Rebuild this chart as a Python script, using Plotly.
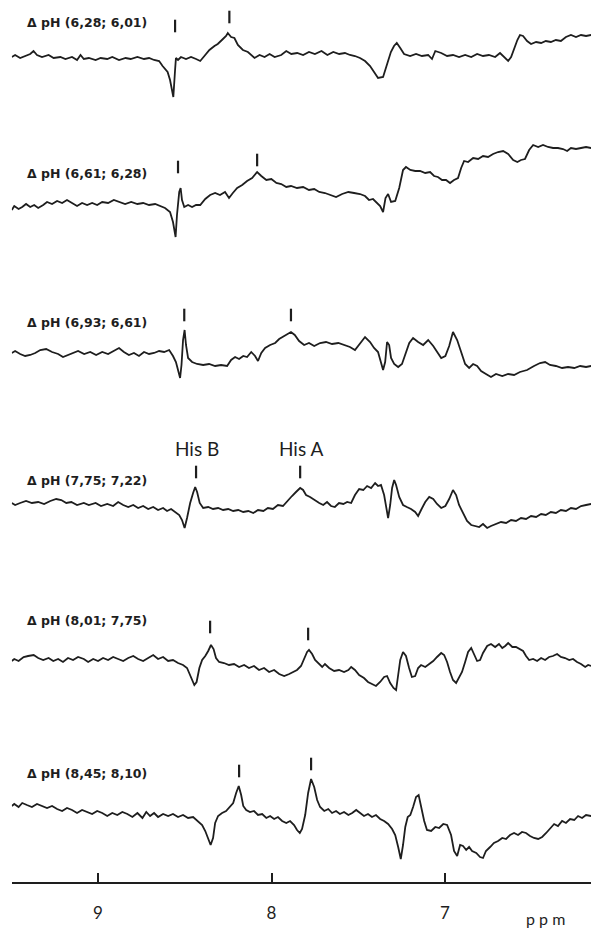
import plotly.graph_objects as go

# ---------------- data (ppm, difference intensity) ----------------
spectra_labels = ["Δ pH (6,28; 6,01)", "Δ pH (6,61; 6,28)", "Δ pH (6,93; 6,61)",
                  "Δ pH (7,75; 7,22)", "Δ pH (8,01; 7,75)", "Δ pH (8,45; 8,10)"]

spec_1 = [(9.497,-1),(9.478,1),(9.449,-2),(9.420,0),(9.391,2),(9.372,5),(9.352,1),(9.323,-1),(9.285,1),(9.256,-2),
          (9.217,-1),(9.188,-3),(9.150,-1),(9.121,-4),(9.101,1),(9.082,-3),(9.053,-2),(9.014,-4),(8.985,-2),(8.947,-3),
          (8.918,-1),(8.879,-4),(8.841,-2),(8.812,-3),(8.773,-1),(8.735,-3),(8.706,-2),(8.677,-4),(8.648,-5),(8.628,-10),
          (8.599,-16),(8.585,-24),(8.573,-34),(8.566,-41),(8.556,-14),(8.551,-2),(8.539,-4),(8.522,-1),(8.493,-3),
          (8.464,-1),(8.435,-3),(8.411,-5),(8.387,0),(8.358,6),(8.329,10),(8.310,12),(8.286,16),(8.262,20),(8.252,23),
          (8.233,19),(8.214,18),(8.194,11),(8.165,6),(8.136,4),(8.098,-2),(8.069,1),(8.040,-1),(8.011,2),(7.982,-1),
          (7.944,1),(7.915,5),(7.886,2),(7.852,3),(7.818,1),(7.784,4),(7.750,2),(7.712,5),(7.678,1),(7.644,4),
          (7.610,2),(7.577,3),(7.548,1),(7.519,0),(7.490,-2),(7.461,-5),(7.432,-10),(7.409,-16),(7.386,-22),
          (7.357,-21),(7.336,-10),(7.312,4),(7.294,10),(7.278,13),(7.258,8),(7.236,2),(7.201,0),(7.167,2),
          (7.133,0),(7.097,1),(7.075,-3),(7.056,5),(7.022,3),(6.988,0),(6.954,1),(6.919,-1),(6.884,1),(6.849,-1),
          (6.815,2),(6.781,0),(6.747,1),(6.711,-1),(6.683,3),(6.660,-1),(6.636,-5),(6.619,-1),(6.602,8),(6.583,16),
          (6.568,21),(6.550,20),(6.527,15),(6.504,12),(6.475,14),(6.446,13),(6.419,15),(6.390,14),(6.361,16),
          (6.332,15),(6.303,19),(6.274,21),(6.245,19),(6.216,21),(6.187,20),(6.158,21)]

spec_2 = [(9.497,-5),(9.483,-1),(9.458,-4),(9.437,-2),(9.415,1),(9.391,-2),(9.368,0),(9.345,-3),(9.316,0),
          (9.294,3),(9.265,1),(9.236,4),(9.207,2),(9.179,5),(9.150,2),(9.121,-1),(9.092,2),(9.063,0),(9.034,2),(9.005,0),
          (8.976,3),(8.942,2),(8.909,5),(8.879,3),(8.844,1),(8.809,3),(8.773,1),(8.740,2),(8.706,0),(8.671,1),
          (8.642,-1),(8.614,-3),(8.585,-7),(8.568,-17),(8.553,-32),(8.545,-10),(8.532,13),(8.524,17),(8.516,5),
          (8.503,-2),(8.481,0),(8.458,-2),(8.435,0),(8.411,0),(8.382,6),(8.354,10),(8.325,12),(8.297,10),
          (8.268,13),(8.245,7),(8.223,12),(8.198,17),(8.169,20),(8.141,24),(8.112,27),(8.083,33),(8.059,29),
          (8.030,25),(8.001,26),(7.972,22),(7.944,21),(7.915,18),(7.888,19),(7.853,17),(7.818,18),(7.784,15),
          (7.754,16),(7.725,13),(7.692,12),(7.657,10),(7.628,8),(7.593,11),(7.557,13),(7.524,12),(7.490,11),
          (7.461,9),(7.438,5),(7.415,6),(7.392,2),(7.374,-1),(7.357,-7),(7.343,7),(7.328,11),(7.311,3),(7.287,4),
          (7.264,17),(7.242,35),(7.225,38),(7.200,35),(7.172,34),(7.144,34),(7.114,32),(7.086,33),(7.063,29),
          (7.041,28),(7.017,25),(6.994,25),(6.971,22),(6.948,25),(6.925,27),(6.907,37),(6.890,44),(6.867,43),
          (6.838,47),(6.809,46),(6.781,49),(6.752,48),(6.723,51),(6.694,53),(6.665,54),(6.636,51),(6.607,45),
          (6.583,43),(6.562,45),(6.539,46),(6.515,55),(6.492,60),(6.463,58),(6.435,60),(6.406,58),(6.377,57),
          (6.349,57),(6.320,56),(6.296,54),(6.274,57),(6.245,56),(6.216,57),(6.187,58),(6.158,57)]

spec_3 = [(9.497,-1),(9.478,1),(9.449,-2),(9.420,-4),(9.391,-3),(9.362,-1),(9.333,2),(9.299,3),(9.265,0),(9.230,-2),
          (9.202,-5),(9.173,-3),(9.144,-1),(9.115,1),(9.080,-2),(9.045,0),(9.011,-3),(8.976,0),(8.942,-2),
          (8.909,1),(8.879,4),(8.851,0),(8.822,-3),(8.793,-1),(8.764,-4),(8.735,0),(8.706,-2),(8.677,-1),(8.648,1),
          (8.619,0),(8.590,2),(8.568,-4),(8.551,-10),(8.536,-20),(8.527,-26),(8.519,-13),(8.510,12),(8.501,22),
          (8.493,7),(8.481,-6),(8.458,-10),(8.429,-12),(8.394,-13),(8.360,-12),(8.325,-14),(8.291,-13),
          (8.256,-14),(8.233,-8),(8.210,-5),(8.187,-7),(8.163,-4),(8.141,-5),(8.117,0),(8.095,-4),(8.078,-9),
          (8.059,-1),(8.037,4),(8.008,7),(7.979,9),(7.956,13),(7.934,15),(7.910,18),(7.888,20),(7.866,17),
          (7.841,11),(7.812,7),(7.784,9),(7.754,6),(7.720,9),(7.686,10),(7.651,8),(7.615,9),(7.582,7),
          (7.548,5),(7.519,2),(7.490,9),(7.461,15),(7.432,10),(7.409,4),(7.386,0),(7.369,-10),(7.357,-18),
          (7.345,-10),(7.334,10),(7.322,7),(7.311,-6),(7.293,-12),(7.270,-15),(7.248,-12),(7.230,-3),(7.206,9),
          (7.184,14),(7.155,10),(7.126,7),(7.097,12),(7.068,6),(7.046,0),(7.022,-6),(6.998,-4),(6.976,6),
          (6.954,20),(6.930,12),(6.907,0),(6.884,-12),(6.861,-16),(6.838,-12),(6.815,-14),(6.792,-19),
          (6.764,-22),(6.735,-25),(6.706,-22),(6.670,-24),(6.636,-22),(6.602,-23),(6.568,-20),(6.527,-18),
          (6.487,-14),(6.452,-11),(6.423,-10),(6.395,-13),(6.361,-14),(6.325,-16),(6.291,-15),(6.255,-16),
          (6.221,-14),(6.187,-15),(6.158,-14)]

spec_4 = [(9.497,0),(9.478,-2),(9.449,0),(9.415,2),(9.381,0),(9.345,1),(9.311,-1),(9.275,2),(9.241,4),(9.212,3),
          (9.183,0),(9.154,1),(9.121,-2),(9.082,0),(9.053,-2),(9.014,0),(8.983,-3),(8.947,-1),(8.913,-3),(8.884,1),
          (8.855,-2),(8.826,-4),(8.797,-2),(8.769,-5),(8.740,-3),(8.711,-6),(8.682,-4),(8.654,-7),(8.625,-5),
          (8.602,-8),(8.579,-6),(8.556,-9),(8.532,-12),(8.516,-17),(8.501,-25),(8.487,-15),(8.469,0),(8.452,10),
          (8.440,16),(8.429,11),(8.414,0),(8.394,-5),(8.365,-4),(8.337,-6),(8.308,-5),(8.279,-7),(8.250,-6),
          (8.221,-8),(8.192,-7),(8.163,-9),(8.134,-8),(8.105,-10),(8.078,-7),(8.047,-8),(8.021,-5),(7.992,-6),
          (7.963,-2),(7.934,-3),(7.905,2),(7.882,7),(7.859,11),(7.835,15),(7.818,13),(7.801,8),(7.778,6),(7.754,3),
          (7.725,0),(7.702,-2),(7.680,1),(7.657,-3),(7.635,-4),(7.611,0),(7.586,-1),(7.564,1),(7.541,0),(7.519,8),
          (7.495,14),(7.471,13),(7.449,17),(7.426,15),(7.403,20),(7.386,17),(7.369,18),(7.351,8),(7.340,-2),
          (7.328,-15),(7.316,-2),(7.305,15),(7.293,23),(7.282,18),(7.264,6),(7.242,-2),(7.220,-4),(7.196,-6),
          (7.172,-9),(7.155,-13),(7.138,-7),(7.114,1),(7.091,6),(7.068,4),(7.046,-1),(7.022,-5),(6.998,-3),
          (6.976,4),(6.954,13),(6.936,8),(6.919,-2),(6.896,-10),(6.873,-18),(6.849,-22),(6.826,-23),(6.803,-24),
          (6.781,-21),(6.757,-25),(6.735,-23),(6.706,-21),(6.677,-19),(6.648,-20),(6.619,-17),(6.591,-18),
          (6.562,-15),(6.533,-16),(6.504,-13),(6.475,-14),(6.446,-11),(6.419,-12),(6.390,-9),(6.361,-10),
          (6.332,-7),(6.303,-8),(6.274,-5),(6.245,-6),(6.216,-3),(6.187,-2),(6.158,-1)]

spec_5 = [(9.497,-3),(9.483,-1),(9.458,-3),(9.429,1),(9.403,2),(9.371,3),(9.345,0),(9.316,-2),(9.285,0),(9.258,-3),
          (9.230,-1),(9.202,-4),(9.173,0),(9.144,-2),(9.115,1),(9.082,-1),(9.057,-4),(9.028,-1),(9.000,-3),
          (8.971,0),(8.942,-2),(8.913,1),(8.884,-1),(8.855,-3),(8.826,0),(8.797,2),(8.769,-1),(8.740,-3),
          (8.711,0),(8.682,3),(8.654,-1),(8.625,1),(8.596,-3),(8.568,-2),(8.539,-5),(8.510,-7),(8.487,-10),
          (8.465,-18),(8.445,-27),(8.432,-24),(8.416,-10),(8.400,-2),(8.382,2),(8.365,7),(8.349,13),(8.334,9),
          (8.320,0),(8.302,-4),(8.274,-5),(8.245,-7),(8.216,-6),(8.187,-9),(8.158,-7),(8.130,-10),(8.101,-8),
          (8.072,-12),(8.043,-10),(8.014,-14),(7.985,-12),(7.956,-16),(7.927,-18),(7.898,-16),(7.876,-14),
          (7.853,-12),(7.830,-8),(7.812,-1),(7.795,6),(7.784,8),(7.766,4),(7.749,-2),(7.725,-6),(7.708,-9),
          (7.692,-6),(7.668,-10),(7.639,-13),(7.611,-12),(7.582,-14),(7.557,-12),(7.541,-9),(7.519,-12),
          (7.495,-17),(7.467,-20),(7.444,-24),(7.421,-26),(7.398,-28),(7.374,-24),(7.351,-19),(7.334,-18),
          (7.316,-25),(7.297,-30),(7.282,-32),(7.270,-17),(7.258,-2),(7.242,6),(7.225,2),(7.207,-10),(7.191,-19),
          (7.172,-18),(7.155,-10),(7.138,-7),(7.114,-9),(7.091,-6),(7.068,-3),(7.046,1),(7.022,5),(7.005,3),
          (6.988,-4),(6.971,-14),(6.954,-22),(6.936,-25),(6.919,-19),(6.902,-14),(6.884,-4),(6.867,6),(6.849,10),
          (6.832,3),(6.815,-3),(6.798,-2),(6.781,5),(6.757,12),(6.735,14),(6.711,11),(6.689,14),(6.670,10),
          (6.653,12),(6.636,15),(6.612,11),(6.591,11),(6.568,9),(6.550,7),(6.533,2),(6.515,-2),(6.492,-1),
          (6.469,-3),(6.446,0),(6.423,-2),(6.400,1),(6.378,2),(6.354,4),(6.332,1),(6.308,0),(6.284,-2),(6.262,-1),
          (6.239,-4),(6.216,-6),(6.192,-9),(6.175,-7),(6.158,-8)]

spec_6 = [(9.497,4),(9.483,6),(9.458,3),(9.437,7),(9.410,5),(9.381,3),(9.352,6),(9.323,4),(9.294,2),(9.265,4),
          (9.236,1),(9.207,-1),(9.179,2),(9.150,0),(9.121,-3),(9.092,0),(9.063,-2),(9.034,-4),(9.005,-1),(8.976,-3),
          (8.947,-6),(8.918,-3),(8.889,-5),(8.860,-2),(8.831,-4),(8.802,-7),(8.773,-3),(8.744,-8),(8.722,-2),(8.700,-6),
          (8.677,-3),(8.654,-7),(8.625,-4),(8.596,-6),(8.568,-4),(8.539,-7),(8.510,-5),(8.481,-8),(8.452,-7),
          (8.423,-11),(8.400,-15),(8.382,-21),(8.365,-30),(8.351,-35),(8.337,-28),(8.325,-13),(8.308,-6),
          (8.285,-3),(8.262,-1),(8.239,3),(8.221,7),(8.204,17),(8.189,24),(8.175,15),(8.163,4),(8.146,0),
          (8.124,-2),(8.101,-1),(8.078,-5),(8.054,-4),(8.030,-8),(8.008,-6),(7.985,-9),(7.963,-7),(7.939,-11),
          (7.915,-13),(7.893,-11),(7.870,-15),(7.853,-20),(7.837,-23),(7.824,-19),(7.806,-5),(7.789,17),(7.772,31),
          (7.754,23),(7.737,10),(7.720,3),(7.696,-1),(7.673,1),(7.651,-3),(7.628,-1),(7.606,-4),(7.582,-2),
          (7.557,-5),(7.535,-3),(7.512,0),(7.490,-3),(7.467,-6),(7.444,-4),(7.421,-7),(7.398,-5),(7.374,-9),
          (7.351,-11),(7.328,-14),(7.305,-19),(7.287,-25),(7.270,-37),(7.255,-49),(7.242,-35),(7.229,-17),
          (7.215,-7),(7.200,-5),(7.184,3),(7.167,13),(7.152,15),(7.138,3),(7.120,-11),(7.104,-20),(7.080,-21),
          (7.056,-17),(7.034,-18),(7.010,-14),(6.988,-15),(6.965,-25),(6.948,-41),(6.930,-46),(6.913,-35),
          (6.896,-36),(6.878,-40),(6.861,-37),(6.844,-41),(6.820,-43),(6.798,-47),(6.781,-48),(6.764,-41),
          (6.740,-37),(6.718,-33),(6.694,-31),(6.670,-28),(6.648,-29),(6.625,-25),(6.602,-23),(6.579,-25),
          (6.556,-22),(6.533,-23),(6.510,-26),(6.487,-28),(6.463,-29),(6.440,-27),(6.417,-23),(6.395,-19),
          (6.371,-14),(6.349,-16),(6.325,-11),(6.303,-13),(6.279,-9),(6.255,-10),(6.233,-6),(6.210,-8),
          (6.187,-5),(6.158,-6)]

# His resonance marker positions (ppm, height above baseline)
his_marks = [
    [(8.556, 30), (8.243, 39)],
    [(8.539, 38), (8.083, 45)],
    [(8.503, 37), (7.888, 37)],
    [(8.435, 31), (7.835, 31)],
    [(8.354, 31), (7.789, 24)],
    [(8.187, 39), (7.772, 46)],
]
his_names = ["His B", "His A"]
his_name_ppm = [8.432, 7.828]

tick_values = [9, 8, 7]
tick_labels = ["9", "8", "7"]

# ---------------- layout constants ----------------
spectra = [spec_1, spec_2, spec_3, spec_4, spec_5, spec_6]
offsets = [759, 610, 463, 312, 157, 5]
label_heights = [34, 32, 30, 23, 38, 37]
his_name_height = 55
ink = "#1e1e1e"

fig = go.Figure()
for spec, off in zip(spectra, offsets):
    fig.add_trace(go.Scatter(
        x=[p for p, _ in spec], y=[off + v for _, v in spec],
        mode="lines", line=dict(color=ink, width=1.8), showlegend=False, hoverinfo="skip"))

for marks, off in zip(his_marks, offsets):
    fig.add_trace(go.Scatter(
        x=[p for p, _ in marks], y=[off + h for _, h in marks],
        mode="markers", marker=dict(symbol="line-ns", size=9, line=dict(color=ink, width=2.2)),
        showlegend=False, hoverinfo="skip", cliponaxis=False))

annotations = []
for lab, off, lh in zip(spectra_labels, offsets, label_heights):
    annotations.append(dict(x=9.42, y=off + lh, text=lab, showarrow=False, xanchor="left",
                            yanchor="middle", font=dict(family="DejaVu Sans", size=12.5, color=ink,
                                                        weight="bold")))
for name, p in zip(his_names, his_name_ppm):
    annotations.append(dict(x=p, y=offsets[3] + his_name_height, text=name, showarrow=False,
                            xanchor="center", yanchor="middle",
                            font=dict(family="Lato", size=19, color=ink)))
annotations.append(dict(x=6.418, y=0, xref="x", yref="paper", yshift=-36, text="p p m", showarrow=False,
                        xanchor="center", yanchor="middle",
                        font=dict(family="Lato", size=16, color=ink)))

fig.update_layout(
    width=591, height=936,
    margin=dict(l=0, r=0, t=0, b=54),
    paper_bgcolor="white", plot_bgcolor="white",
    annotations=annotations,
    xaxis=dict(range=[9.497, 6.1585], domain=[0.02, 1], showgrid=False, zeroline=False,
               showline=True, linecolor=ink, linewidth=1.5,
               ticks="inside", ticklen=9, tickwidth=1.5, tickcolor=ink,
               tickvals=tick_values, ticktext=tick_labels, ticklabelstandoff=15,
               tickfont=dict(family="Lato", size=17, color=ink)),
    yaxis=dict(range=[-67, 815], visible=False, showgrid=False, zeroline=False),
)

fig.write_html("out.html")
